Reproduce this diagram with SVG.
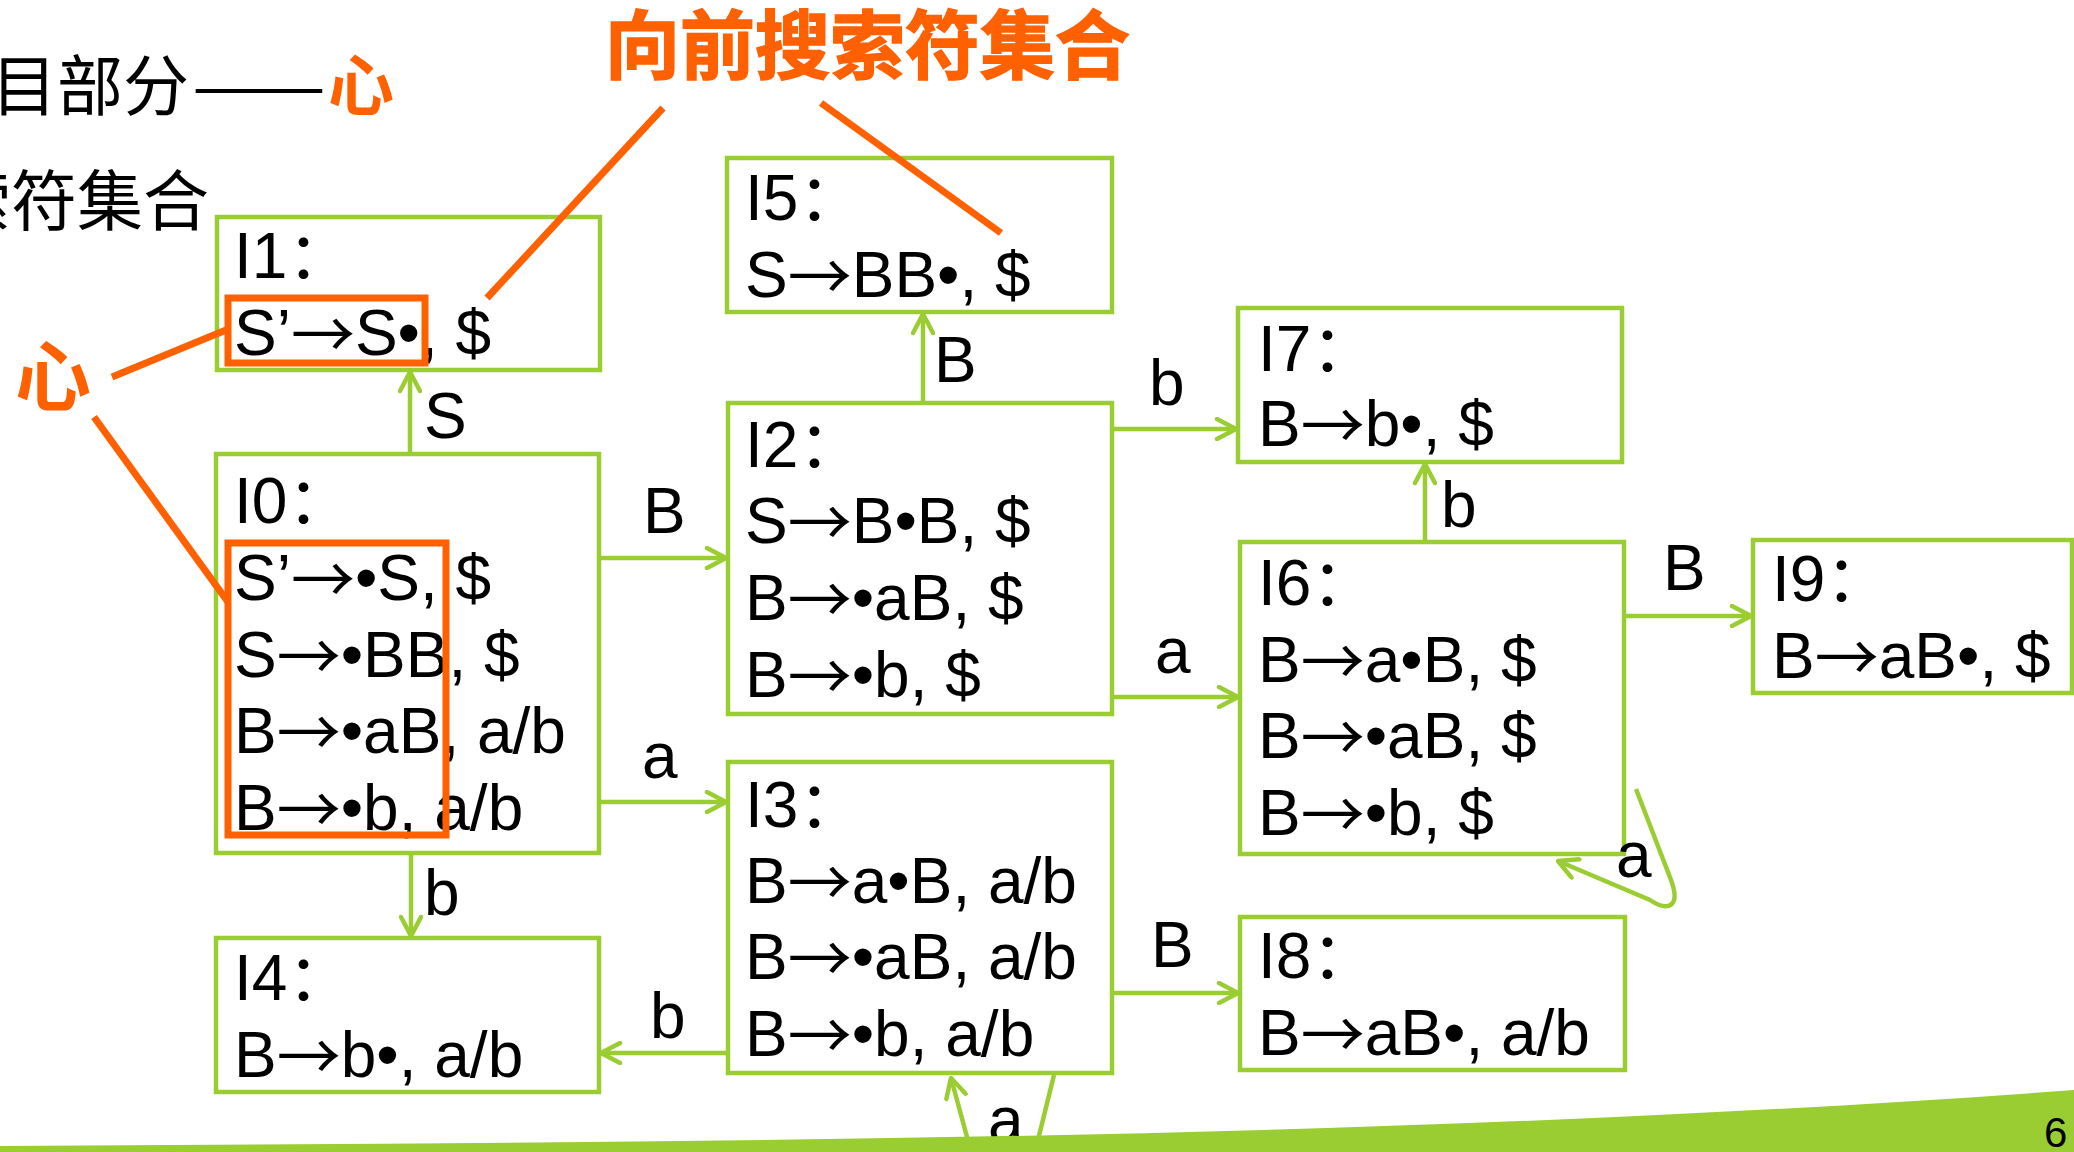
<svg xmlns="http://www.w3.org/2000/svg" width="2074" height="1152" viewBox="0 0 2074 1152">
<style>
.box{fill:#fff;stroke:#9ACD32;stroke-width:4.5}
.t{font-family:"Liberation Sans","Noto Sans CJK SC",sans-serif;font-size:64px;fill:#000}
.ar{font-family:"Noto Sans CJK SC",sans-serif;baseline-shift:-3px}
.cjk{font-family:"Noto Sans CJK SC",sans-serif;fill:#000}
.or{fill:#FF6000;font-weight:bold}
.edge{fill:none;stroke:#9ACD32;stroke-width:4.5;marker-end:url(#arr)}
.hl{fill:none;stroke:#FF6000;stroke-width:7}
.ol{stroke:#FF6000;stroke-width:7;fill:none}
</style>
<defs>
<marker id="arr" viewBox="0 0 24 24" refX="22" refY="12" markerWidth="24" markerHeight="24" markerUnits="userSpaceOnUse" orient="auto">
<path d="M3,2 L22,12 L3,22" fill="none" stroke="#9ACD32" stroke-width="4.5" stroke-linecap="round" stroke-linejoin="round"/>
</marker>
</defs>
<rect width="2074" height="1152" fill="#fff"/>

<g id="bg-text">
<text class="cjk" x="-9" y="110" font-size="66">目部分</text>
<text class="cjk" x="192" y="110" font-size="66" textLength="134" lengthAdjust="spacingAndGlyphs">——</text>
<text class="cjk or" x="328" y="110" font-size="66">心</text>
<text class="cjk" x="-55" y="225" font-size="66">索符集合</text>
</g>

<g id="I1"><rect class="box" x="217" y="217" width="383" height="153"/>
<text class="t" x="234" y="278">I1：<tspan x="234" y="355">S’<tspan class="ar">→</tspan>S•, $</tspan></text></g>

<g id="I0"><rect class="box" x="216" y="454" width="383" height="399"/>
<text class="t" x="234" y="523">I0：<tspan x="234" y="600">S’<tspan class="ar">→</tspan>•S, $</tspan><tspan x="234" y="677">S<tspan class="ar">→</tspan>•BB, $</tspan><tspan x="234" y="753">B<tspan class="ar">→</tspan>•aB, a/b</tspan><tspan x="234" y="830">B<tspan class="ar">→</tspan>•b, a/b</tspan></text></g>

<g id="I4"><rect class="box" x="216" y="938" width="383" height="154"/>
<text class="t" x="234" y="1000">I4：<tspan x="234" y="1077">B<tspan class="ar">→</tspan>b•, a/b</tspan></text></g>

<g id="I5"><rect class="box" x="727" y="158" width="385" height="154"/>
<text class="t" x="745" y="220">I5：<tspan x="745" y="297">S<tspan class="ar">→</tspan>BB•, $</tspan></text></g>

<g id="I2"><rect class="box" x="728" y="403" width="384" height="311"/>
<text class="t" x="745" y="467">I2：<tspan x="745" y="543">S<tspan class="ar">→</tspan>B•B, $</tspan><tspan x="745" y="620">B<tspan class="ar">→</tspan>•aB, $</tspan><tspan x="745" y="697">B<tspan class="ar">→</tspan>•b, $</tspan></text></g>

<g id="I3"><rect class="box" x="728" y="762" width="384" height="311"/>
<text class="t" x="745" y="827">I3：<tspan x="745" y="903">B<tspan class="ar">→</tspan>a•B, a/b</tspan><tspan x="745" y="979">B<tspan class="ar">→</tspan>•aB, a/b</tspan><tspan x="745" y="1056">B<tspan class="ar">→</tspan>•b, a/b</tspan></text></g>

<g id="I7"><rect class="box" x="1238" y="308" width="384" height="154"/>
<text class="t" x="1258" y="371">I7：<tspan x="1258" y="446">B<tspan class="ar">→</tspan>b•, $</tspan></text></g>

<g id="I6"><rect class="box" x="1240" y="542" width="384" height="312"/>
<text class="t" x="1258" y="605">I6：<tspan x="1258" y="682">B<tspan class="ar">→</tspan>a•B, $</tspan><tspan x="1258" y="758">B<tspan class="ar">→</tspan>•aB, $</tspan><tspan x="1258" y="835">B<tspan class="ar">→</tspan>•b, $</tspan></text></g>

<g id="I9"><rect class="box" x="1753" y="540" width="319" height="153"/>
<text class="t" x="1772" y="601">I9：<tspan x="1772" y="678">B<tspan class="ar">→</tspan>aB•, $</tspan></text></g>

<g id="I8"><rect class="box" x="1240" y="917" width="385" height="153"/>
<text class="t" x="1258" y="978">I8：<tspan x="1258" y="1055">B<tspan class="ar">→</tspan>aB•, a/b</tspan></text></g>

<g id="connectors">
<path class="edge" d="M410,452 L410,372"/>
<path class="edge" d="M601,558 L726,558"/>
<path class="edge" d="M601,802 L726,802"/>
<path class="edge" d="M411,855 L411,936"/>
<path class="edge" d="M923,401 L923,314"/>
<path class="edge" d="M1114,429 L1236,429"/>
<path class="edge" d="M1114,697 L1238,697"/>
<path class="edge" d="M1114,993 L1238,993"/>
<path class="edge" d="M726,1053 L601,1053"/>
<path class="edge" d="M1626,616 L1751,616"/>
<path class="edge" d="M1425,540 L1425,464"/>
<path class="edge" d="M1054,1075 L1036,1148 Q1003,1178 970,1148 L951,1078"/>
<path class="edge" d="M1636,789 L1671,880 C1681,907 1668,912 1650,900 L1558,861"/>
<g class="t">
<text x="424" y="438">S</text>
<text x="643" y="533">B</text>
<text x="642" y="778">a</text>
<text x="424" y="915">b</text>
<text x="934" y="382">B</text>
<text x="1149" y="405">b</text>
<text x="1155" y="673">a</text>
<text x="1151" y="967">B</text>
<text x="650" y="1038">b</text>
<text x="988" y="1142">a</text>
<text x="1441" y="527">b</text>
<text x="1663" y="590">B</text>
<text x="1616" y="877">a</text>
</g>
</g>

<g id="annotations">
<rect class="hl" x="228" y="298" width="197" height="65"/>
<rect class="hl" x="228" y="543" width="218" height="292"/>
<line class="ol" x1="112" y1="377" x2="226" y2="330"/>
<line class="ol" x1="94" y1="417" x2="228" y2="602"/>
<line class="ol" x1="663" y1="108" x2="487" y2="298"/>
<line class="ol" x1="821" y1="103" x2="1001" y2="233"/>
<text class="cjk or" x="15" y="405" font-size="76">心</text>
<text class="cjk or" x="605" y="73" font-size="75" stroke="#FF6000" stroke-width="1.5">向前搜索符集合</text>
</g>

<g id="footer">
<path d="M0,1146 C700,1142 1400,1140 2074,1090 L2074,1152 L0,1152 Z" fill="#9ACD32"/>
<text x="2044" y="1147" font-family="Liberation Sans, sans-serif" font-size="42" fill="#000">6</text>
</g>
</svg>
